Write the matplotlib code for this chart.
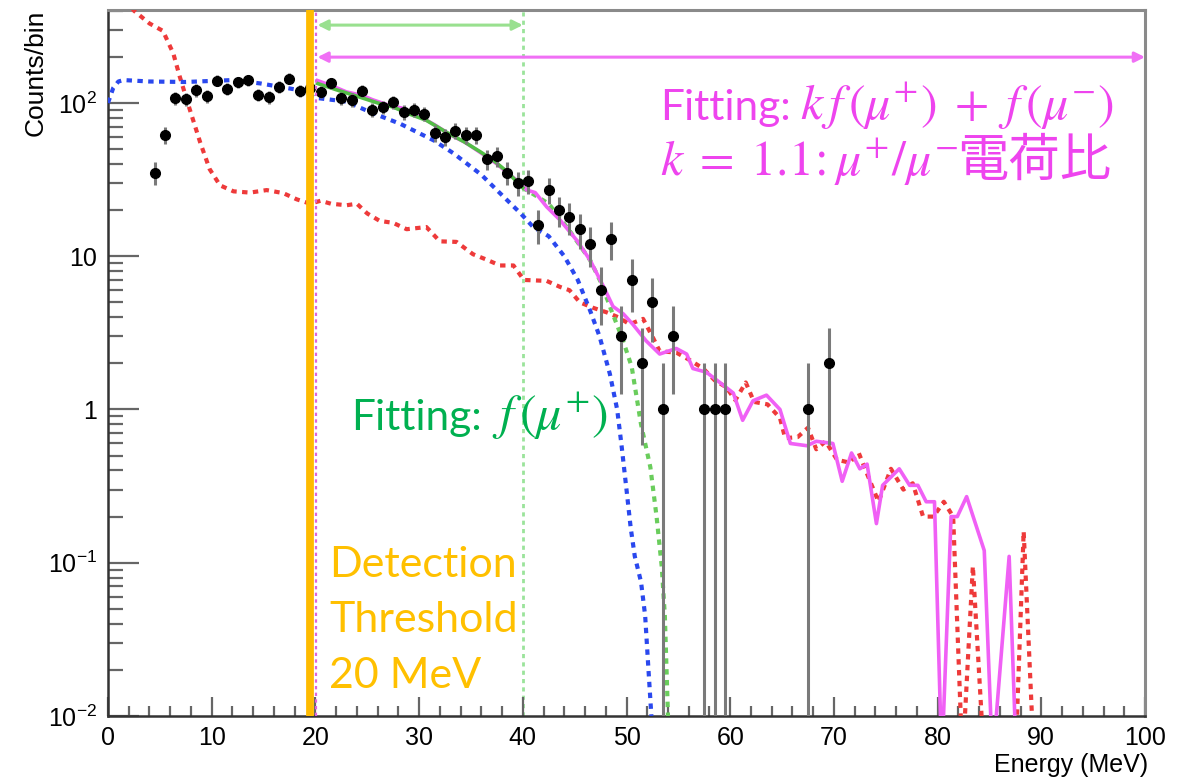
import numpy as np
import matplotlib
matplotlib.use('Agg')
import matplotlib.pyplot as plt
from matplotlib.ticker import FixedLocator, MultipleLocator, NullFormatter, LogLocator

# ---------------- data ----------------
# measured spectrum (bin centres, counts per 1 MeV bin)
data_e = [4.5, 5.5, 6.5, 7.5, 8.5, 9.5, 10.5, 11.5, 12.5, 13.5, 14.5, 15.5, 16.5, 17.5,
          18.5, 19.5, 20.5, 21.5, 22.5, 23.5, 24.5, 25.5, 26.5, 27.5, 28.5, 29.5, 30.5,
          31.5, 32.5, 33.5, 34.5, 35.5, 36.5, 37.5, 38.5, 39.5, 40.5, 41.5, 42.5, 43.5,
          44.5, 45.5, 46.5, 47.5, 48.5, 49.5, 50.5, 51.5, 52.5, 53.5, 54.5, 57.5, 58.5,
          59.5, 67.5, 69.5]
data_n = [35, 62, 107, 106, 121, 111, 140, 124, 137, 141, 113, 109, 127, 144,
          120, 125, 118, 134, 108, 105, 120, 90, 94, 101, 87, 90, 85,
          64, 60, 66, 62, 62, 43, 45, 35, 30, 31, 16, 27, 20,
          18, 15, 12, 6, 13, 3, 7, 2, 5, 1, 3, 1, 1,
          1, 1, 2]

# blue dotted curve
blue_e = [0.0, 0.5, 1.0, 1.5, 4.0, 7.5, 12.0, 14.7, 17.0, 18.5, 20.0, 23.0, 25.3, 28.2,
          31.4, 33.3, 36.0, 38.0, 39.8, 41.0, 42.5, 44.0, 45.3, 46.5, 47.4, 48.4, 49.1,
          49.5, 50.0, 50.4, 50.8, 51.4, 51.8, 52.1, 52.4]
blue_v = [100, 125, 138, 141, 138, 137, 141, 134, 126, 121, 108, 102, 87, 73,
          57, 47, 34, 25, 19, 15.5, 13.5, 10, 7, 4.4, 3.0, 1.7, 1.0,
          0.6, 0.3, 0.17, 0.11, 0.075, 0.045, 0.021, 0.01]

# red dotted curve
red_e = [0.0, 1.0, 2.0, 2.5, 4.0, 5.3, 6.3, 6.9, 7.9, 8.9, 9.8, 10.8, 12.1, 13.7, 15.3,
         16.9, 18.2, 19.5, 20.5, 21.5, 23.0, 24.0, 25.0, 26.2, 27.5, 28.8, 30.7, 32.0,
         33.6, 35.2, 36.5, 37.8, 39.1, 40.1, 42.3, 43.6, 44.5, 45.5, 46.8, 48.1, 49.2,
         50.3, 51.6, 52.6, 53.2, 54.8, 56.1, 57.4, 58.5, 59.6, 60.5, 61.5, 62.3, 63.6,
         64.8, 65.3, 66.5, 67.5, 68.3, 69.2, 70.3, 71.5, 72.4, 73.2, 74.3, 75.5, 76.7,
         77.6, 78.6, 79.6, 80.6, 81.5, 82.4, 83.4, 84.5, 87.5, 88.3, 89.3]
red_v = [700, 560, 450, 400, 330, 295, 210, 150, 90, 55, 37, 29, 26.5, 26, 27,
         25.8, 23.5, 22, 23, 22, 21.5, 22, 19, 17, 16.5, 15, 15.5, 12.5,
         12.4, 10.3, 9.5, 8.7, 8.7, 7.0, 6.9, 6.3, 6.0, 5.0, 4.6, 4.3, 4.0,
         3.6, 3.9, 2.9, 2.4, 2.35, 2.1, 1.85, 1.55, 1.4, 1.15, 1.5, 1.12, 1.08,
         0.88, 0.65, 0.66, 0.76, 0.55, 0.62, 0.47, 0.45, 0.52, 0.38, 0.25, 0.41, 0.30,
         0.33, 0.20, 0.20, 0.25, 0.20, 0.005, 0.095, 0.005, 0.005, 0.16, 0.005]

# magenta solid curve: k f(mu+) + f(mu-)
mag_e = [20.2, 21.5, 23.0, 24.5, 25.5, 27.0, 28.5, 30.0, 31.5, 33.0, 34.5, 36.0, 37.5,
         38.5, 39.5, 40.4, 41.2, 42.3, 43.6, 45.2, 46.5, 47.8, 48.7, 49.7, 50.6, 51.9,
         53.2, 54.8, 55.8, 56.4, 57.7, 59.0, 60.3, 61.2, 62.2, 63.5, 64.8, 65.8, 67.4,
         68.3, 69.9, 70.8, 71.7, 72.5, 73.2, 74.1, 74.7, 76.3, 77.3, 78.1, 78.9, 79.7,
         80.4, 81.3, 81.9, 82.8, 84.5, 85.3, 86.9, 87.6]
mag_v = [140, 130, 118, 112, 105, 97, 92, 82, 72, 62, 55, 47, 40,
         35, 31, 27, 26, 21, 17.2, 12.7, 9.4, 6.3, 4.7, 4.2, 3.6, 2.8,
         2.3, 2.5, 2.3, 1.85, 1.75, 1.5, 1.28, 0.85, 1.14, 1.24, 1.0, 0.6, 0.58,
         0.62, 0.6, 0.34, 0.52, 0.41, 0.44, 0.18, 0.32, 0.41, 0.32, 0.32, 0.25, 0.25,
         0.005, 0.2, 0.2, 0.27, 0.12, 0.005, 0.11, 0.005]

# green solid curve (fit range 20-40 MeV) and its dotted extrapolation
green_e = [20.2, 22.0, 24.3, 26.0, 27.5, 29.0, 30.7, 32.7, 34.3, 35.9, 37.2, 38.4, 40.0]
green_v = [134, 122, 109, 100, 94, 85, 77, 64, 56, 48, 42, 36, 28]
gext_e = [40.0, 42.5, 44.5, 46.5, 47.6, 48.5, 49.6, 50.5, 51.4, 52.3, 52.9, 53.4, 53.7, 54.0]
gext_v = [28, 22, 14.7, 9.4, 6.6, 4.5, 2.9, 1.9, 0.8, 0.42, 0.2, 0.094, 0.045, 0.01]

threshold_e = 19.5
fit1_range = [20.2, 40.0]
fit2_range = [20.2, 100.0]

x_ticks = [0, 10, 20, 30, 40, 50, 60, 70, 80, 90, 100]
y_ticks = [0.01, 0.1, 1, 10, 100]
y_ticklabels = [r'$\mathregular{10^{-2}}$', r'$\mathregular{10^{-1}}$', '1', '10',
                r'$\mathregular{10^{2}}$']

# ---------------- style ----------------
plt.rcParams['font.family'] = ['Liberation Sans', 'DejaVu Sans']
plt.rcParams['mathtext.fontset'] = 'stix'

W_PX, H_PX = 1195, 780
fig = plt.figure(figsize=(W_PX / 100, H_PX / 100), dpi=100)
L, R, T, B = 108, 1145, 10, 716
ax = fig.add_axes([L / W_PX, 1 - B / H_PX, (R - L) / W_PX, (B - T) / H_PX])

def fpos(x, y):
    return x / W_PX, 1 - y / H_PX

ax.set_yscale('log')
ax.set_xlim(0, 100)
ax.set_ylim(0.01, 404)

dot = (0, (1.3, 1.3))

# vertical markers
ax.axvline(40.0, color='#9be39b', lw=2.0, ls=(0, (1.5, 1.5)), zorder=1)
ax.axvline(100.0, color='#ee55ee', lw=1.8, ls=(0, (1.5, 1.5)), zorder=1)

# curves
ax.plot(red_e, red_v, color='#ee3a3a', lw=3.0, ls=dot, zorder=3)
ax.plot(blue_e, blue_v, color='#2a48ee', lw=3.0, ls=dot, zorder=3)
ax.plot(gext_e, gext_v, color='#6acd5c', lw=3.0, ls=dot, zorder=3)
ax.plot(mag_e, mag_v, color='#f060f5', lw=2.6, zorder=4)
ax.plot(green_e, green_v, color='#52be46', lw=2.6, zorder=5)

# data points
data_n_arr = np.array(data_n, dtype=float)
err = np.sqrt(data_n_arr)
ax.errorbar(data_e, data_n_arr, yerr=err, fmt='none', ecolor='#7a7a7a', elinewidth=2.2,
            capsize=0, zorder=6)
ax.plot(data_e, data_n_arr, 'o', color='black', ms=7, zorder=7)

# threshold lines
ax.axvline(threshold_e, color='#ffbb00', lw=5.6, zorder=8)
ax.axvline(20.05, color='#dd66dd', lw=1.6, ls=(0, (1.5, 1.5)), zorder=8)

# range arrows
ax.annotate('', xy=(fit1_range[0], 322), xytext=(fit1_range[1], 322),
            arrowprops=dict(arrowstyle='<|-|>', color='#99e08f', lw=2.2,
                            mutation_scale=15, shrinkA=0, shrinkB=0), zorder=9)
ax.annotate('', xy=(fit2_range[0], 199), xytext=(fit2_range[1], 199),
            arrowprops=dict(arrowstyle='<|-|>', color='#f070f5', lw=2.2,
                            mutation_scale=15, shrinkA=0, shrinkB=0), zorder=9)

# axes styling
for side in ['left', 'bottom']:
    ax.spines[side].set_color('#333333')
    ax.spines[side].set_linewidth(1.8)
for side in ['top', 'right']:
    ax.spines[side].set_color('#8a8a8a')
    ax.spines[side].set_linewidth(2.2)

ax.xaxis.set_major_locator(FixedLocator(x_ticks))
ax.xaxis.set_minor_locator(MultipleLocator(2))
ax.yaxis.set_major_locator(FixedLocator(y_ticks))
ax.yaxis.set_minor_locator(LogLocator(base=10, subs=np.arange(2, 10)))
ax.yaxis.set_minor_formatter(NullFormatter())
ax.set_yticklabels(y_ticklabels)
ax.set_xticklabels([str(v) for v in x_ticks])

ax.tick_params(axis='x', which='major', direction='in', length=14, width=1.6,
               color='#666666', labelsize=18, pad=7)
ax.tick_params(axis='x', which='minor', direction='in', length=7, width=1.6,
               color='#666666')
ax.tick_params(axis='y', which='major', direction='in', length=22, width=1.6,
               color='#666666', labelsize=18, pad=8)
ax.tick_params(axis='y', which='minor', direction='in', length=11, width=1.6,
               color='#666666')

# axis titles
fig.text(*fpos(36, 10), 'Counts/bin', rotation=90, ha='center', va='top', fontsize=19)
fig.text(*fpos(1148, 765), 'Energy (MeV)', ha='right', va='center', fontsize=18)

# annotations
fam = ['Lato', 'DejaVu Sans']
orange = '#ffc000'
for txt, yb in [('Detection', 577), ('Threshold', 632), ('20 MeV', 688)]:
    fig.text(*fpos(329, yb), txt, color=orange, fontsize=31, family=fam, va='baseline')

green_txt = '#00b050'
fig.text(*fpos(351, 430), 'Fitting:', color=green_txt, fontsize=30.5, family=fam,
         va='baseline')
fig.text(*fpos(492, 430), r'$f\,(\mu^{+})$', color=green_txt, fontsize=36,
         va='baseline')

magenta = '#ee44ee'
fig.text(*fpos(660, 120), 'Fitting:', color=magenta, fontsize=30.5, family=fam,
         va='baseline')
fig.text(*fpos(800, 120), r'$k\,f\,(\mu^{+})\;+\;f\,(\mu^{-})$', color=magenta,
         fontsize=36, va='baseline')
fig.text(*fpos(660, 176), r'$k\;=\;1.1\!:\mu^{+}/\mu^{-}$', color=magenta,
         fontsize=36, va='baseline')
fig.text(*fpos(957, 176), '電荷比', color=magenta, fontsize=37,
         family=['Noto Sans CJK JP'], va='baseline')

fig.savefig('out.png', dpi=100)
